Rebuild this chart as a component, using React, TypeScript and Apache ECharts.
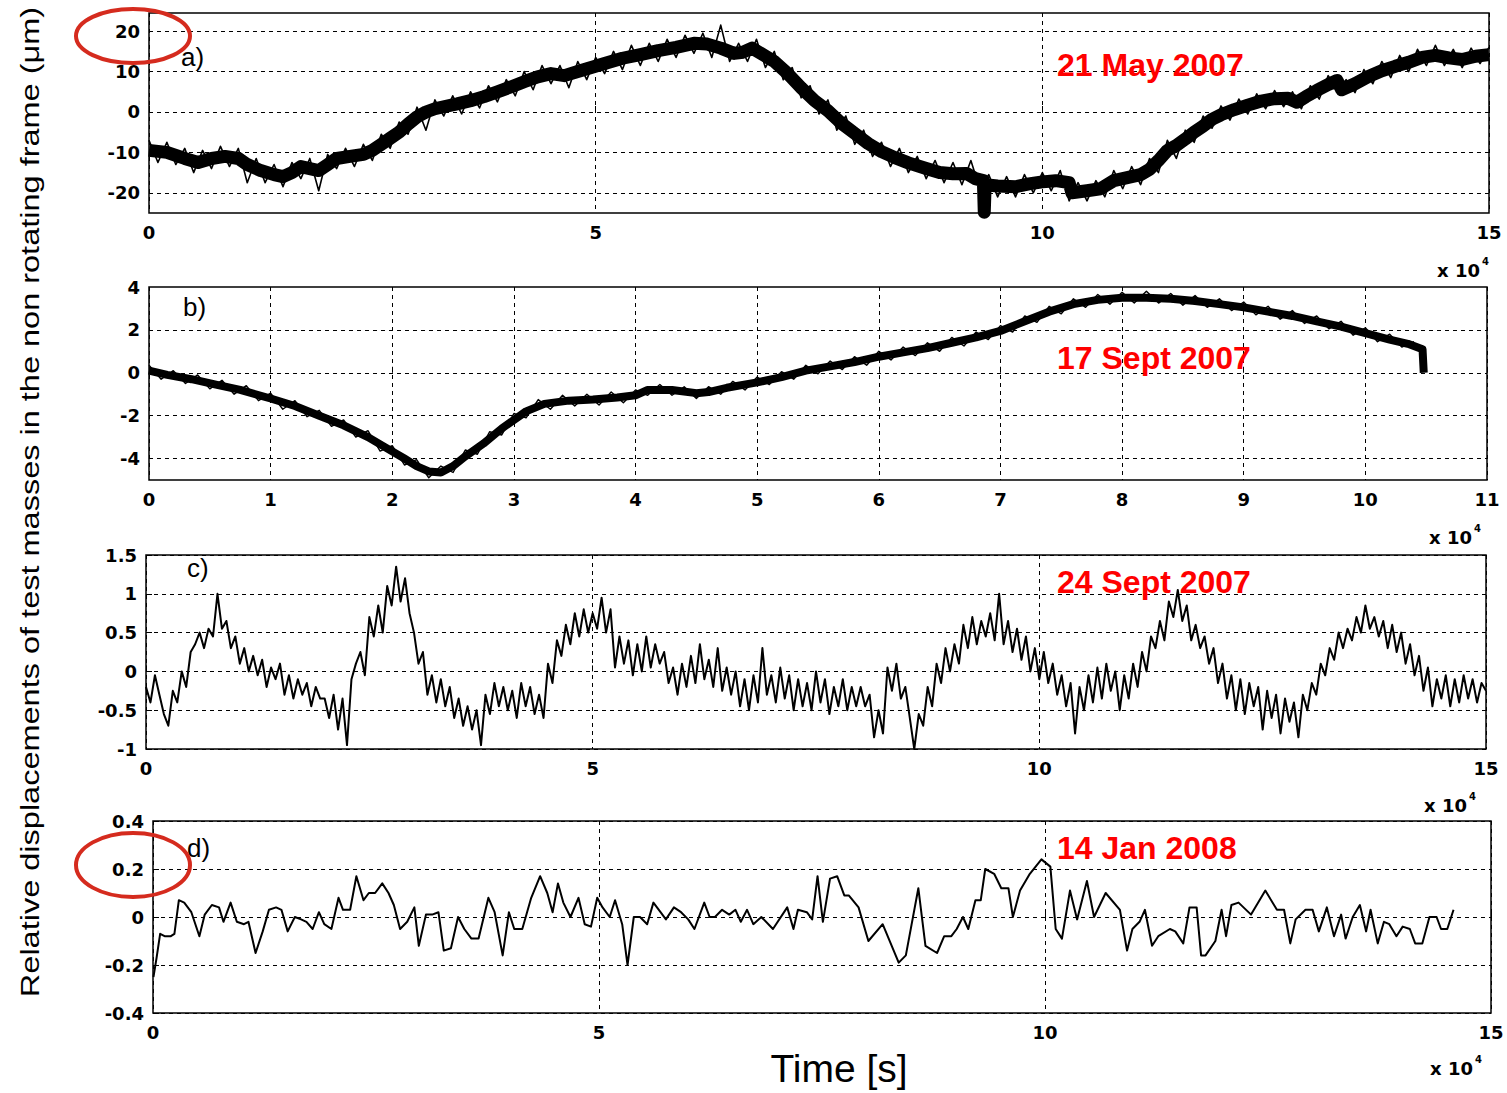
import React, { useEffect, useRef } from "react";
import * as echarts from "echarts";

// ---------- DATA (time in units of 10^4 s, displacement in µm) ----------
// panel a: mean trace
const aTime = [0, 0.2, 0.4, 0.55, 0.7, 0.85, 1.0, 1.1, 1.25, 1.4, 1.5, 1.6, 1.7, 1.8, 1.9, 2.0, 2.1, 2.25, 2.4, 2.5, 2.6, 2.7, 2.8, 2.9, 3.0, 3.1, 3.2, 3.3, 3.45, 3.6, 3.75, 3.9, 4.05, 4.2, 4.35, 4.5, 4.65, 4.8, 4.95, 5.1, 5.3, 5.5, 5.7, 5.9, 6.1, 6.25, 6.4, 6.55, 6.65, 6.75, 6.85, 7.0, 7.15, 7.3, 7.45, 7.6, 7.75, 7.9, 8.05, 8.2, 8.35, 8.5, 8.7, 8.85, 9.0, 9.15, 9.25, 9.34, 9.35, 9.36, 9.5, 9.7, 9.85, 10.0, 10.15, 10.3, 10.33, 10.5, 10.65, 10.8, 11.0, 11.1, 11.2, 11.3, 11.4, 11.5, 11.6, 11.7, 11.8, 11.9, 12.0, 12.15, 12.3, 12.45, 12.6, 12.75, 12.85, 12.95, 13.07, 13.2, 13.3, 13.35, 13.5, 13.65, 13.8, 13.95, 14.1, 14.25, 14.4, 14.55, 14.7, 14.85, 15.0];
const aDisp = [-9.5, -10, -11.5, -12.5, -11.5, -11, -11.5, -13, -14.5, -15.5, -16, -15, -13.5, -14, -14.5, -13, -11.5, -11, -10.5, -9.5, -8, -6.5, -5, -3, -1.2, 0, 0.8, 1.3, 2, 2.8, 3.8, 5, 6.2, 7.5, 8.7, 9.5, 9, 10, 11, 12, 13.3, 14.2, 15.2, 16, 17, 16.8, 15.8, 14.5, 14.8, 15.8, 14.5, 12.5, 9.5, 6, 2.8, 0.3, -2.8, -5.3, -7.8, -9.8, -11.3, -12.6, -14, -15, -15.3, -15.2, -16.5, -17, -24.8, -18, -18.3, -18.5, -17.8, -17.3, -17, -17.5, -20, -19.5, -19, -17, -16, -15.5, -14.2, -12, -9.5, -8.3, -6.7, -5, -3.5, -1.8, -0.7, 0.6, 1.7, 2.7, 3.3, 3.4, 2.4, 3.8, 5.3, 6.8, 7.8, 5.5, 7, 8.8, 10.2, 11.3, 12.3, 13.5, 14, 13.4, 13, 13.8, 14.2];
// panel a: noise fringe, one sample every 0.1 x 10^4 s (0 .. 15)
const aFringeStep = 0.1;
const aFringe = [
  -7, -12.5, -7.5, -13, -9, -15, -9.5, -14, -8.5, -13.5,
  -9, -17.5, -11.5, -17.5, -13, -18.5, -12.5, -16.5, -11.5, -19.5,
  -10.5, -14, -9, -13.5, -8, -12, -5.5, -9, -2.5, -5.5,
  1.2, -4.5, 3, -1, 4, -0.5, 5, 1, 6.5, 2.5,
  8, 4, 10, 5.5, 11.5, 7, 11.5, 6, 12.5, 8,
  13.5, 9.5, 15, 10.5, 16.5, 11.5, 17, 12.5, 18, 13.5,
  19, 14.5, 19.5, 13.5, 21.5, 12.5, 17, 12.5, 18, 11,
  15, 8, 11, 3.5, 6.5, -0.5, 3, -4.5, -1, -8,
  -4.5, -11, -7.5, -13.5, -9, -15, -11, -16.5, -12, -17.5,
  -12.5, -18, -12, -19, -15.5, -21, -16, -21, -15.5, -20,
  -15, -19.5, -14.5, -22, -17.5, -22, -17, -21, -14.5, -19,
  -13.5, -18, -11.5, -15, -7, -11.5, -4.5, -7.5, -1, -4,
  1.5, -2, 3.2, -0.5, 4.5, 0.8, 5.3, 1.3, 5, 0.8,
  6.5, 3.2, 9, 5.3, 8, 4.8, 10.5, 7, 12.5, 8.5,
  14, 10, 15.5, 11.5, 16.5, 11.5, 15.5, 11, 15.8, 12, 16,
];

// panel b: mean trace
const bTime = [0, 0.15, 0.35, 0.55, 0.75, 1.0, 1.2, 1.4, 1.6, 1.8, 1.95, 2.1, 2.2, 2.3, 2.4, 2.5, 2.6, 2.75, 2.9, 3.0, 3.1, 3.25, 3.45, 3.65, 3.85, 4.0, 4.1, 4.3, 4.5, 4.6, 4.75, 5.0, 5.2, 5.4, 5.6, 5.8, 6.0, 6.2, 6.4, 6.6, 6.8, 7.0, 7.2, 7.4, 7.6, 7.8, 8.0, 8.2, 8.4, 8.6, 8.8, 9.0, 9.2, 9.4, 9.6, 9.8, 10.0, 10.2, 10.35, 10.47, 10.48];
const bDisp = [0.1, -0.1, -0.3, -0.55, -0.8, -1.2, -1.55, -2.0, -2.45, -3.0, -3.5, -4.0, -4.35, -4.6, -4.65, -4.35, -3.9, -3.3, -2.6, -2.2, -1.8, -1.45, -1.3, -1.25, -1.15, -1.05, -0.8, -0.8, -0.95, -0.9, -0.7, -0.45, -0.2, 0.1, 0.3, 0.5, 0.75, 0.95, 1.15, 1.4, 1.65, 1.95, 2.4, 2.85, 3.2, 3.4, 3.5, 3.5, 3.45, 3.35, 3.2, 3.05, 2.85, 2.65, 2.4, 2.15, 1.85, 1.55, 1.35, 1.1, 0.0];
// panel b: noise fringe, one sample every 0.1 x 10^4 s (0 .. 10.4)
const bFringeStep = 0.1;
const bFringe = [
  0.35, -0.3, 0.1, -0.5, -0.1, -0.75, -0.35, -1.0, -0.6, -1.3,
  -0.95, -1.7, -1.3, -2.05, -1.75, -2.5, -2.2, -3.0, -2.7, -3.65,
  -3.4, -4.3, -4.05, -4.9, -4.35, -4.65, -3.6, -3.8, -2.75, -2.9,
  -1.9, -2.1, -1.25, -1.7, -1.05, -1.55, -1.0, -1.5, -0.9, -1.4,
  -0.8, -1.05, -0.55, -1.05, -0.65, -1.2, -0.65, -1.0, -0.4, -0.8,
  -0.2, -0.55, 0.05, -0.3, 0.35, -0.05, 0.55, 0.15, 0.75, 0.35,
  1.0, 0.6, 1.2, 0.8, 1.4, 1.0, 1.65, 1.25, 1.9, 1.55,
  2.2, 1.9, 2.65, 2.35, 3.1, 2.75, 3.45, 3.05, 3.65, 3.2,
  3.75, 3.25, 3.8, 3.25, 3.7, 3.15, 3.6, 3.05, 3.45, 2.9,
  3.3, 2.7, 3.1, 2.5, 2.9, 2.3, 2.65, 2.05, 2.4, 1.75,
  2.1, 1.45, 1.8, 1.2, 1.45,
];

// panel c: one sample every 0.05 x 10^4 s, from 0 to 15
const cStep = 0.05;
const cDisp = [
  -0.2, -0.4, -0.05, -0.3, -0.55, -0.7, -0.25, -0.4, 0.0, -0.2, 0.25, 0.35, 0.5, 0.3, 0.55, 0.45, 1.0, 0.55, 0.65, 0.3,
  0.45, 0.1, 0.3, 0.0, 0.2, -0.05, 0.15, -0.2, 0.05, -0.1, 0.1, -0.3, -0.05, -0.35, -0.1, -0.3, -0.15, -0.45, -0.2, -0.35,
  -0.35, -0.6, -0.3, -0.75, -0.35, -0.95, -0.1, 0.1, 0.25, -0.05, 0.7, 0.45, 0.85, 0.5, 1.1, 0.85, 1.35, 0.9, 1.2, 0.75,
  0.5, 0.1, 0.25, -0.3, -0.05, -0.4, -0.1, -0.45, -0.2, -0.6, -0.35, -0.7, -0.45, -0.75, -0.5, -0.95, -0.3, -0.55, -0.15, -0.45,
  -0.2, -0.5, -0.25, -0.6, -0.15, -0.45, -0.2, -0.55, -0.3, -0.6, 0.1, -0.15, 0.4, 0.2, 0.6, 0.35, 0.75, 0.45, 0.8, 0.5,
  0.75, 0.55, 0.95, 0.5, 0.8, 0.05, 0.45, 0.1, 0.4, -0.05, 0.35, 0.0, 0.45, 0.05, 0.35, 0.1, 0.25, -0.15, 0.05, -0.3,
  0.1, -0.2, 0.2, -0.15, 0.35, -0.1, 0.15, -0.2, 0.3, -0.25, 0.05, -0.3, 0.0, -0.45, -0.1, -0.5, -0.05, -0.4, 0.3, -0.3,
  -0.05, -0.4, 0.05, -0.35, -0.05, -0.5, -0.1, -0.45, -0.15, -0.5, 0.0, -0.4, -0.1, -0.55, -0.2, -0.45, -0.1, -0.5, -0.2, -0.45,
  -0.2, -0.45, -0.3, -0.85, -0.5, -0.8, 0.05, -0.25, 0.1, -0.35, -0.2, -0.6, -1.0, -0.55, -0.7, -0.2, -0.45, 0.1, -0.15, 0.3,
  0.0, 0.35, 0.1, 0.6, 0.3, 0.7, 0.35, 0.65, 0.45, 0.75, 0.4, 1.0, 0.35, 0.65, 0.25, 0.55, 0.15, 0.45, 0.0, 0.3,
  -0.1, 0.25, -0.15, 0.1, -0.3, -0.05, -0.45, -0.15, -0.8, -0.2, -0.5, -0.05, -0.4, 0.05, -0.35, 0.1, -0.25, 0.0, -0.5, -0.05,
  -0.35, 0.1, -0.2, 0.25, 0.0, 0.45, 0.3, 0.65, 0.4, 0.9, 0.7, 1.05, 0.65, 0.85, 0.4, 0.6, 0.3, 0.45, 0.1, 0.3,
  -0.15, 0.1, -0.35, -0.05, -0.5, -0.1, -0.55, -0.15, -0.45, -0.2, -0.75, -0.25, -0.6, -0.3, -0.8, -0.35, -0.65, -0.4, -0.85, -0.3,
  -0.5, -0.15, -0.3, 0.1, -0.05, 0.3, 0.15, 0.5, 0.3, 0.55, 0.4, 0.7, 0.5, 0.85, 0.55, 0.7, 0.45, 0.65, 0.3, 0.6,
  0.25, 0.5, 0.1, 0.35, -0.05, 0.2, -0.25, 0.05, -0.45, -0.1, -0.35, -0.05, -0.45, -0.1, -0.4, -0.05, -0.35, -0.1, -0.4, -0.15, -0.25,
];

// panel d
const dTime = [0.005, 0.04, 0.08, 0.13, 0.2, 0.24, 0.29, 0.35, 0.43, 0.52, 0.58, 0.66, 0.74, 0.79, 0.87, 0.94, 1.02, 1.07, 1.15, 1.23, 1.3, 1.38, 1.44, 1.51, 1.59, 1.66, 1.72, 1.79, 1.86, 1.92, 2.0, 2.08, 2.13, 2.21, 2.28, 2.36, 2.42, 2.49, 2.57, 2.64, 2.7, 2.77, 2.85, 2.93, 2.98, 3.06, 3.13, 3.2, 3.26, 3.34, 3.42, 3.49, 3.57, 3.65, 3.76, 3.83, 3.92, 3.99, 4.05, 4.14, 4.24, 4.34, 4.42, 4.48, 4.54, 4.6, 4.68, 4.77, 4.84, 4.91, 4.98, 5.04, 5.12, 5.18, 5.26, 5.32, 5.39, 5.46, 5.54, 5.61, 5.69, 5.75, 5.84, 5.92, 6.0, 6.07, 6.18, 6.24, 6.3, 6.38, 6.46, 6.53, 6.59, 6.66, 6.73, 6.82, 6.95, 7.11, 7.18, 7.23, 7.33, 7.39, 7.45, 7.51, 7.59, 7.67, 7.75, 7.8, 7.91, 8.02, 8.18, 8.36, 8.44, 8.58, 8.66, 8.79, 8.87, 8.95, 9.01, 9.08, 9.14, 9.22, 9.28, 9.33, 9.43, 9.51, 9.59, 9.64, 9.72, 9.83, 9.96, 10.06, 10.12, 10.19, 10.28, 10.36, 10.47, 10.55, 10.68, 10.84, 10.92, 10.98, 11.06, 11.12, 11.2, 11.27, 11.4, 11.46, 11.55, 11.62, 11.7, 11.75, 11.8, 11.91, 11.98, 12.03, 12.09, 12.17, 12.31, 12.47, 12.6, 12.68, 12.75, 12.81, 12.92, 13.0, 13.07, 13.16, 13.24, 13.32, 13.37, 13.45, 13.53, 13.6, 13.65, 13.73, 13.8, 13.86, 13.94, 14.01, 14.09, 14.15, 14.23, 14.31, 14.39, 14.44, 14.51, 14.58];
const dDisp = [-0.25, -0.17, -0.07, -0.08, -0.08, -0.07, 0.07, 0.06, 0.02, -0.08, 0.01, 0.05, 0.04, -0.02, 0.06, -0.02, -0.03, -0.02, -0.15, -0.06, 0.03, 0.04, 0.03, -0.06, 0.0, -0.01, -0.02, -0.05, 0.02, -0.03, -0.05, 0.08, 0.03, 0.03, 0.17, 0.07, 0.1, 0.1, 0.14, 0.1, 0.05, -0.05, -0.02, 0.04, -0.12, 0.01, 0.01, 0.02, -0.14, -0.13, 0.0, -0.05, -0.09, -0.09, 0.08, 0.02, -0.16, 0.02, -0.05, -0.05, 0.08, 0.17, 0.1, 0.02, 0.14, 0.06, 0.0, 0.08, -0.03, -0.04, 0.08, 0.04, 0.0, 0.07, -0.03, -0.2, 0.0, 0.0, -0.03, 0.06, 0.02, -0.01, 0.04, 0.02, -0.01, -0.05, 0.06, 0.0, 0.0, 0.03, 0.01, 0.03, -0.02, 0.03, -0.03, 0.0, -0.05, 0.04, -0.05, 0.03, 0.02, -0.01, 0.17, -0.02, 0.16, 0.17, 0.09, 0.09, 0.04, -0.1, -0.03, -0.19, -0.16, 0.12, -0.12, -0.15, -0.08, -0.08, -0.05, 0.0, -0.05, 0.07, 0.07, 0.2, 0.18, 0.12, 0.12, 0.0, 0.11, 0.18, 0.24, 0.21, -0.05, -0.09, 0.11, -0.01, 0.15, 0.0, 0.1, 0.03, -0.14, -0.05, -0.02, 0.03, -0.12, -0.08, -0.05, -0.06, -0.11, 0.04, 0.04, -0.16, -0.16, -0.1, 0.03, -0.08, 0.05, 0.06, 0.01, 0.11, 0.03, 0.03, -0.11, -0.01, 0.03, 0.03, -0.06, 0.04, -0.08, 0.01, -0.09, 0.0, 0.05, -0.06, 0.03, -0.11, -0.02, -0.03, -0.08, -0.04, -0.05, -0.11, -0.11, 0.0, 0.0, -0.05, -0.05, 0.03];

// axis limits and tick labels
const aYLevels = [-20, -10, 0, 10, 20];
const bYLevels = [-4, -2, 0, 2];
const panelLetters = ["a)", "b)", "c)", "d)"];
const panelDates = ["21 May 2007", "17 Sept 2007", "24 Sept 2007", "14 Jan 2008"];
const yTitle = "Relative displacements of test masses in the non rotating frame (\u03bcm)";
const xTitle = "Time [s]";
const xScaleNote = "x 10";
const xScaleExp = "4";

const TICK_FONT = '"DejaVu Sans", sans-serif';
const TEXT_FONT = '"Liberation Sans", Arial, sans-serif';
const TICK_SIZE = 18;

const grids = [
  { left: 149, top: 13, width: 1340, height: 200 },
  { left: 149, top: 287, width: 1338, height: 193 },
  { left: 146, top: 555, width: 1340, height: 194 },
  { left: 153, top: 821, width: 1338, height: 192 },
];

const dashed = { color: "#000", type: [4, 4] as any, width: 1 };
const tickLabel = { color: "#000", fontSize: TICK_SIZE, fontFamily: TICK_FONT, fontWeight: "bold" };

function xAxisFor(i: number, max: number, interval: number) {
  return {
    gridIndex: i,
    type: "value",
    min: 0,
    max,
    interval,
    axisLine: { show: false },
    axisTick: { show: true, inside: true, length: 6, lineStyle: { color: "#000" } },
    axisLabel: { ...tickLabel, margin: 10 },
    splitLine: { show: true, lineStyle: dashed },
  };
}

function yAxisFor(i: number, opts: any) {
  return {
    gridIndex: i,
    type: "value",
    axisLine: { show: false },
    axisTick: { show: true, inside: true, length: 6, lineStyle: { color: "#000" } },
    axisLabel: { ...tickLabel, margin: 9 },
    splitLine: { show: true, lineStyle: dashed },
    ...opts,
  };
}

function lineSeries(name: string, idx: number, data: number[][], width: number, extra: any = {}) {
  return {
    name,
    type: "line",
    xAxisIndex: idx,
    yAxisIndex: idx,
    data,
    showSymbol: false,
    symbol: "none",
    lineStyle: { color: "#000", width, join: "round" },
    emphasis: { disabled: true },
    z: 3,
    ...extra,
  };
}

function buildOption() {
  const aData = aTime.map((t, k) => [t, aDisp[k]]);
  const aFringeData = aFringe.map((v, k) => [+(k * aFringeStep).toFixed(2), v]);
  const bData = bTime.map((t, k) => [t, bDisp[k]]);
  const bFringeData = bFringe.map((v, k) => [+(k * bFringeStep).toFixed(2), v]);
  const cData = cDisp.map((v, k) => [+(k * cStep).toFixed(2), v]);
  const dData = dTime.map((t, k) => [t, dDisp[k]]);

  const gridLines = (levels: number[]) => ({
    silent: true,
    symbol: ["none", "none"],
    label: { show: false },
    lineStyle: dashed,
    emphasis: { disabled: true },
    data: levels.map((v) => ({ yAxis: v })),
  });

  const labelTop = [44, 294, 555, 835];
  const dateY = [65, 358, 582, 848];
  const noteY = [270, 537, 805, 1068];
  const noteRight = [1480, 1472, 1467, 1473];

  const graphic: any[] = [];
  panelLetters.forEach((txt, i) => {
    graphic.push({
      type: "text",
      x: [181, 183, 187, 187][i],
      y: labelTop[i],
      z: 50,
      style: { text: txt, font: `26px ${TEXT_FONT}`, fill: "#000", textVerticalAlign: "top", verticalAlign: "top" },
    });
    graphic.push({
      type: "text",
      x: 1057,
      y: dateY[i],
      z: 50,
      style: {
        text: panelDates[i],
        font: `bold 32px ${TEXT_FONT}`,
        fill: "#ff0000",
        textVerticalAlign: "middle",
        verticalAlign: "middle",
      },
    });
    graphic.push({
      type: "text",
      x: noteRight[i],
      y: noteY[i],
      z: 50,
      style: {
        text: xScaleNote,
        font: `bold ${TICK_SIZE}px ${TICK_FONT}`,
        fill: "#000",
        textAlign: "right",
        align: "right",
        textVerticalAlign: "middle",
        verticalAlign: "middle",
      },
    });
    graphic.push({
      type: "text",
      x: noteRight[i] + 2,
      y: noteY[i] - 9,
      z: 50,
      style: {
        text: xScaleExp,
        font: `bold 10px ${TICK_FONT}`,
        fill: "#000",
        textVerticalAlign: "middle",
        verticalAlign: "middle",
      },
    });
  });
  graphic.push({
    type: "text",
    x: 30,
    y: 502,
    rotation: Math.PI / 2,
    scaleX: 1.25,
    z: 50,
    style: {
      text: yTitle,
      font: `26px ${TEXT_FONT}`,
      fill: "#000",
      textAlign: "center",
      align: "center",
      textVerticalAlign: "middle",
      verticalAlign: "middle",
    },
  });
  graphic.push({
    type: "text",
    x: 839,
    y: 1068,
    z: 50,
    style: {
      text: xTitle,
      font: `39px ${TEXT_FONT}`,
      fill: "#000",
      textAlign: "center",
      align: "center",
      textVerticalAlign: "middle",
      verticalAlign: "middle",
    },
  });
  graphic.push({
    type: "ellipse",
    z: 60,
    shape: { cx: 133, cy: 36, rx: 57, ry: 27 },
    style: { fill: "none", stroke: "#d52b1e", lineWidth: 4 },
  });
  graphic.push({
    type: "ellipse",
    z: 60,
    shape: { cx: 133, cy: 865, rx: 57, ry: 32 },
    style: { fill: "none", stroke: "#d52b1e", lineWidth: 4 },
  });

  return {
    animation: false,
    backgroundColor: "#fff",
    grid: grids.map((g) => ({ ...g, show: true, borderColor: "#000", borderWidth: 1.5, containLabel: false })),
    xAxis: [xAxisFor(0, 15, 5), xAxisFor(1, 11, 1), xAxisFor(2, 15, 5), xAxisFor(3, 15, 5)],
    yAxis: [
      yAxisFor(0, {
        min: -25,
        max: 24.5,
        interval: 5,
        axisTick: { show: false },
        splitLine: { show: false },
        axisLabel: {
          ...tickLabel,
          margin: 9,
          formatter: (v: number) => (aYLevels.indexOf(v) >= 0 ? String(v) : ""),
        },
      }),
      yAxisFor(1, {
        min: -5,
        max: 4,
        interval: 1,
        axisTick: { show: false },
        splitLine: { show: false },
        axisLabel: {
          ...tickLabel,
          margin: 9,
          formatter: (v: number) => (v === 4 || bYLevels.indexOf(v) >= 0 ? String(v) : ""),
        },
      }),
      yAxisFor(2, { min: -1, max: 1.5, interval: 0.5 }),
      yAxisFor(3, { min: -0.4, max: 0.4, interval: 0.2 }),
    ],
    graphic,
    series: [
      lineSeries("21 May 2007", 0, aData, 13, { markLine: gridLines(aYLevels) }),
      lineSeries("21 May 2007 noise", 0, aFringeData, 1.6),
      lineSeries("17 Sept 2007", 1, bData, 8, { markLine: gridLines(bYLevels) }),
      lineSeries("17 Sept 2007 noise", 1, bFringeData, 1.4),
      lineSeries("24 Sept 2007", 2, cData, 2),
      lineSeries("14 Jan 2008", 3, dData, 2),
    ],
  };
}

export default function App() {
  const ref = useRef<HTMLDivElement>(null);
  useEffect(() => {
    if (!ref.current) return;
    const chart = echarts.init(ref.current, undefined, { renderer: "svg" });
    chart.setOption(buildOption() as any);
    return () => chart.dispose();
  }, []);
  return (
    <div
      ref={ref}
      style={{ position: "fixed", left: 0, top: 0, width: 1507, height: 1093, background: "#fff" }}
    />
  );
}
